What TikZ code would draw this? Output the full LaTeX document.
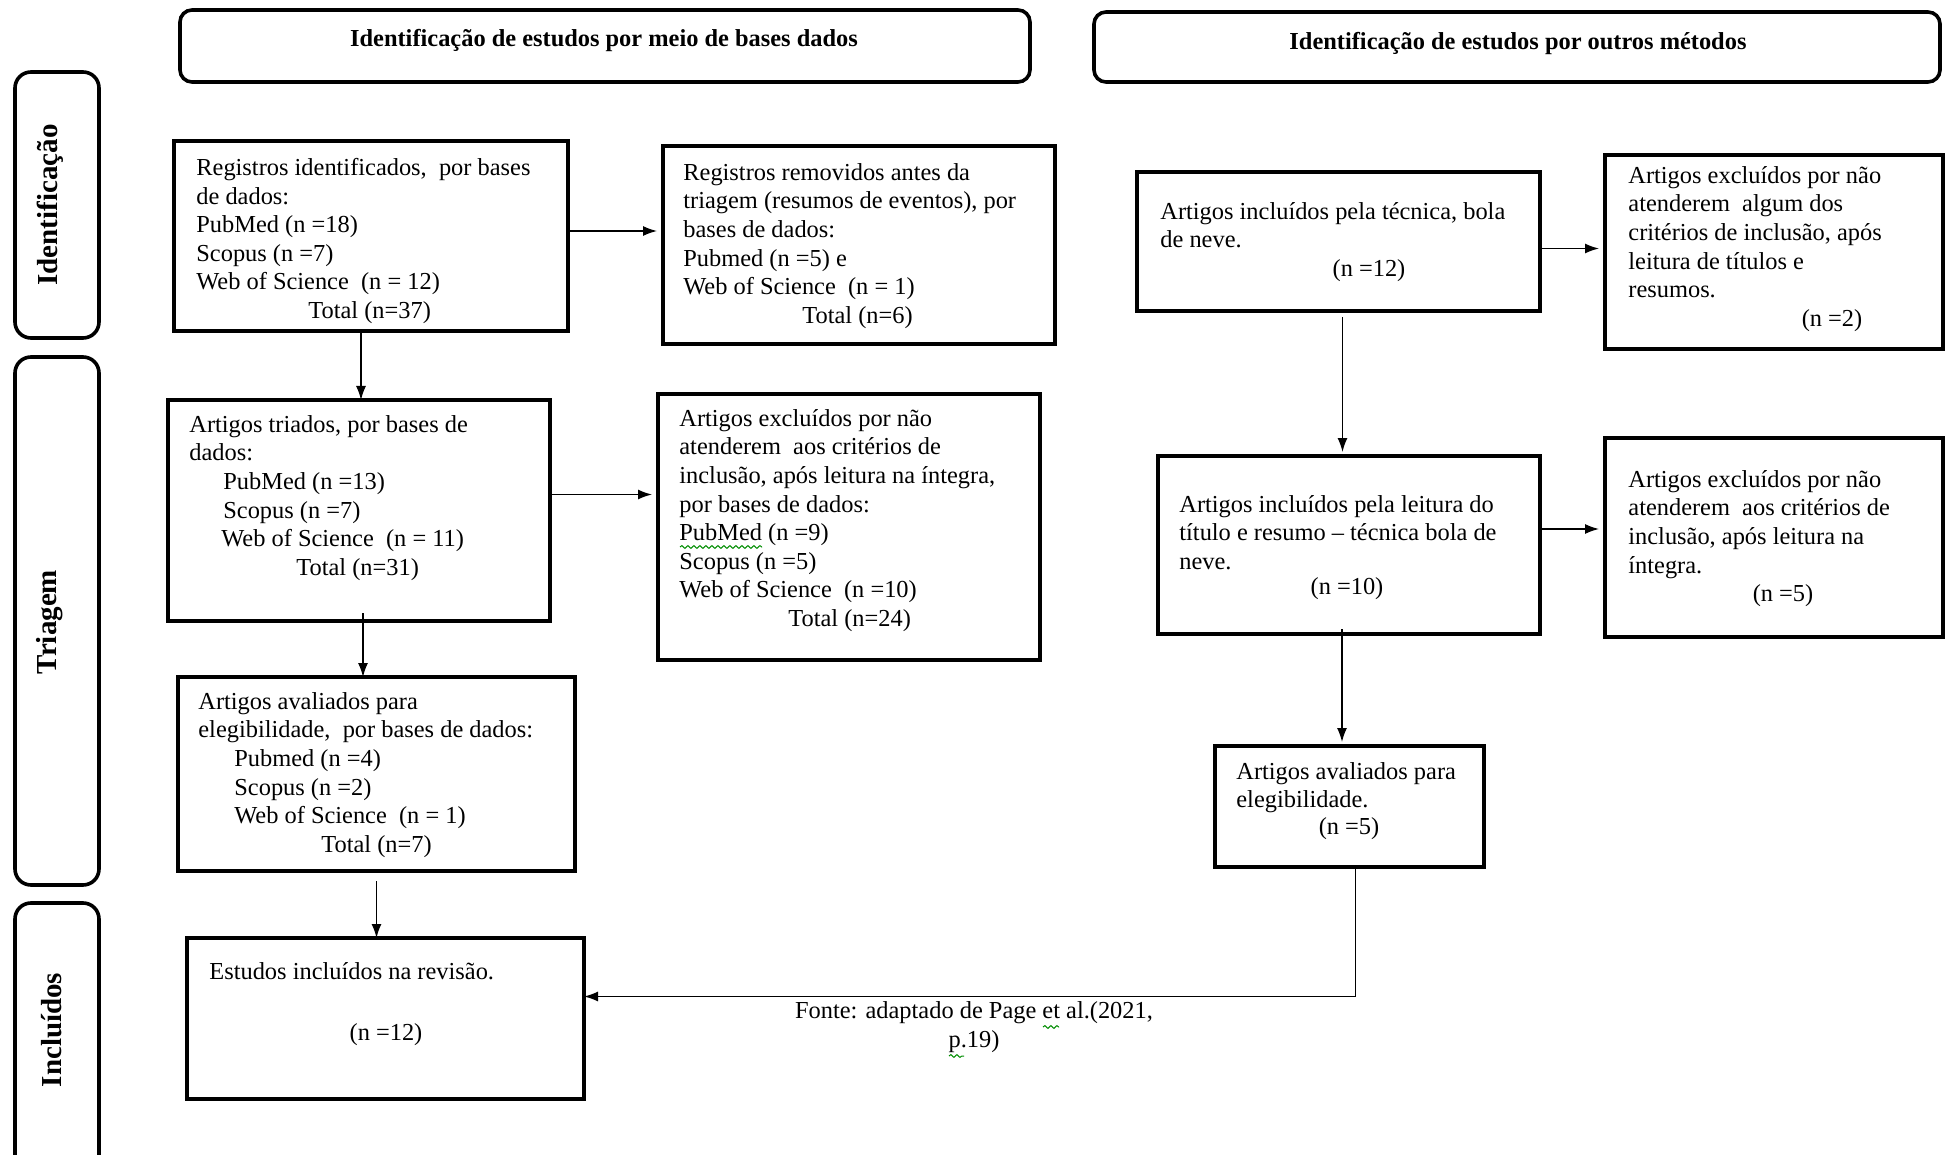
\documentclass[tikz,border=0pt]{standalone}
\usepackage{fontspec}
\setmainfont{Liberation Serif}
\usetikzlibrary{arrows.meta,calc,decorations.pathmorphing}
\begin{document}
\begin{tikzpicture}[x=0.5pt,y=-0.5pt,
  box/.style={draw, line width=1.9pt, inner sep=0pt, outer sep=0pt, anchor=north west},
  hdr/.style={draw, line width=1.8pt, rounded corners=6pt, inner sep=0pt, outer sep=0pt, anchor=north west},
  side/.style={draw, line width=1.8pt, rounded corners=8pt, inner sep=0pt, outer sep=0pt, anchor=north west, minimum width=42pt},
  txt/.style={anchor=north west, inner sep=0pt, align=left, font=\fontsize{12.2}{14.3}\selectfont},
  ntxt/.style={inner sep=0pt, font=\fontsize{12.2}{14.3}\selectfont},
  htxt/.style={inner sep=0pt, font=\fontsize{12.2}{14.3}\selectfont\bfseries},
  stxt/.style={inner sep=0pt, rotate=90, font=\fontsize{14.5}{16}\selectfont\bfseries},
  arr/.style={line width=0.7pt, -{Latex[length=7pt,width=5pt]}},
  squig/.style={draw=green!55!black, line width=0.5pt, decorate, decoration={snake, amplitude=0.7pt, segment length=3pt}},
]
\useasboundingbox (0,0) rectangle (1950,1155);
\clip (0,0) rectangle (1950,1155);

% headers
\node[hdr, minimum width=425pt, minimum height=36pt] (h1) at (180,10) {};
\node[htxt] (h1t) at (604,41) {Identificação de estudos por meio de bases dados};
\node[hdr, minimum width=423pt, minimum height=35pt] (h2) at (1094,12) {};
\node[htxt] (h2t) at (1518,44) {Identificação de estudos por outros métodos};

% side labels
\node[side, minimum height=133pt] (s1) at (15,72) {};
\node[stxt] (s1t) at (50,205) {Identificação};
\node[side, minimum height=264pt] (s2) at (15,357) {};
\node[stxt] (s2t) at (50,622) {Triagem};
\node[side, minimum height=135pt] (s3) at (15,903) {};
\node[stxt] (s3t) at (52,1030) {Incluídos};

% left column boxes
\node[box, minimum width=197pt, minimum height=95pt] (A) at (174,141) {};
\node[txt] (At) at (196,158) {Registros identificados,\ \ por bases\\de dados:\\PubMed (n =18)\\Scopus (n =7)\\Web of Science\ \ (n = 12)\\\hspace*{56pt}Total (n=37)};

\node[box, minimum width=196pt, minimum height=99pt] (B) at (663,146) {};
\node[txt] (Bt) at (683,163) {Registros removidos antes da\\triagem (resumos de eventos), por\\bases de dados:\\Pubmed (n =5) e\\Web of Science\ \ (n = 1)\\\hspace*{59.5pt}Total (n=6)};

\node[box, minimum width=191pt, minimum height=110.5pt] (C) at (168,400) {};
\node[txt] (Ct) at (189,415) {Artigos triados, por bases de\\dados:\\\hspace*{17pt}PubMed (n =13)\\\hspace*{17pt}Scopus (n =7)\\\hspace*{16pt}Web of Science\ \ (n = 11)\\\hspace*{53.5pt}Total (n=31)};

\node[box, minimum width=191pt, minimum height=133pt] (D) at (658,394) {};
\node[txt] (Dt) at (679,409) {Artigos excluídos por não\\atenderem\ \ aos critérios de\\inclusão, após leitura na íntegra,\\por bases de dados:\\PubMed (n =9)\\Scopus (n =5)\\Web of Science\ \ (n =10)\\\hspace*{54.5pt}Total (n=24)};

\node[box, minimum width=198.5pt, minimum height=97pt] (E) at (178,677) {};
\node[txt] (Et) at (198,692) {Artigos avaliados para\\elegibilidade,\ \ por bases de dados:\\\hspace*{18pt}Pubmed (n =4)\\\hspace*{18pt}Scopus (n =2)\\\hspace*{18pt}Web of Science\ \ (n = 1)\\\hspace*{61.5pt}Total (n=7)};

\node[box, minimum width=198.5pt, minimum height=80.5pt] (F) at (187,938) {};
\node[txt] (Ft) at (209,962) {Estudos incluídos na revisão.};
\node[ntxt] (Fn) at (386,1035) {(n =12)};

% right column boxes
\node[box, minimum width=201.5pt, minimum height=69.5pt] (G) at (1137,172) {};
\node[txt] (Gt) at (1160,202) {Artigos incluídos pela técnica, bola\\de neve.};
\node[ntxt] (Gn) at (1369,271) {(n =12)};

\node[box, minimum width=169pt, minimum height=97pt] (H) at (1605,155) {};
\node[txt] (Ht) at (1628,166) {Artigos excluídos por não\\atenderem\ \ algum dos\\critérios de inclusão, após\\leitura de títulos e\\resumos.};
\node[ntxt] (Hn) at (1832,321) {(n =2)};

\node[box, minimum width=191pt, minimum height=89pt] (I) at (1158,456) {};
\node[txt] (It) at (1179,495) {Artigos incluídos pela leitura do\\título e resumo -- técnica bola de\\neve.};
\node[ntxt] (In) at (1347,589) {(n =10)};

\node[box, minimum width=169pt, minimum height=99.5pt] (J) at (1605,438) {};
\node[txt] (Jt) at (1628,470) {Artigos excluídos por não\\atenderem\ \ aos critérios de\\inclusão, após leitura na\\íntegra.};
\node[ntxt] (Jn) at (1783,596) {(n =5)};

\node[box, minimum width=134.5pt, minimum height=60.5pt] (K) at (1215,746) {};
\node[txt] (Kt) at (1236,762) {Artigos avaliados para\\elegibilidade.};
\node[ntxt] (Kn) at (1349,829) {(n =5)};

% caption
\node[ntxt, align=center] (cap) at (974,1027) {Fonte: adaptado de Page et al.(2021,\\p.19)};

% squiggles (spell-check marks)
\path[squig] (680,547) -- (762,547);
\path[squig] (1043,1027) -- (1059,1027);
\path[squig] (949,1056) -- (964,1056);

% connectors
\draw[arr, shorten >=3pt] ($(A.east)+(0,-5)$) -- ($(A.east -| B.west)+(0,-5)$);
\draw[arr] ($(A.south)+(-10,0)$) -- ($(A.south |- C.north)+(-10,0)$);
\draw[arr, shorten >=3pt] ($(C.east)+(0,-16)$) -- ($(C.east -| D.west)+(0,-16)$);
\draw[arr] ($(C.south)+(4,-8)$) -- ($(C.south |- E.north)+(4,0)$);
\draw[arr, shorten <=5pt] (E.south) -- (E.south |- F.north);
\draw[arr, shorten >=3pt] ($(G.east)+(0,7)$) -- ($(G.east -| H.west)+(0,7)$);
\draw[arr, shorten <=3pt, shorten >=2pt] ($(G.south)+(4,0)$) -- ($(G.south |- I.north)+(4,0)$);
\draw[arr, shorten >=3pt] ($(I.east)+(0,-16)$) -- ($(I.east -| J.west)+(0,-16)$);
\draw[arr, shorten >=2pt] ($(I.south)+(-7,-5)$) -- ($(I.south |- K.north)+(-7,0)$);
\draw[arr] ($(K.south)+(6,0)$) |- ($(F.east)+(0,-22)$);
\end{tikzpicture}
\end{document}
